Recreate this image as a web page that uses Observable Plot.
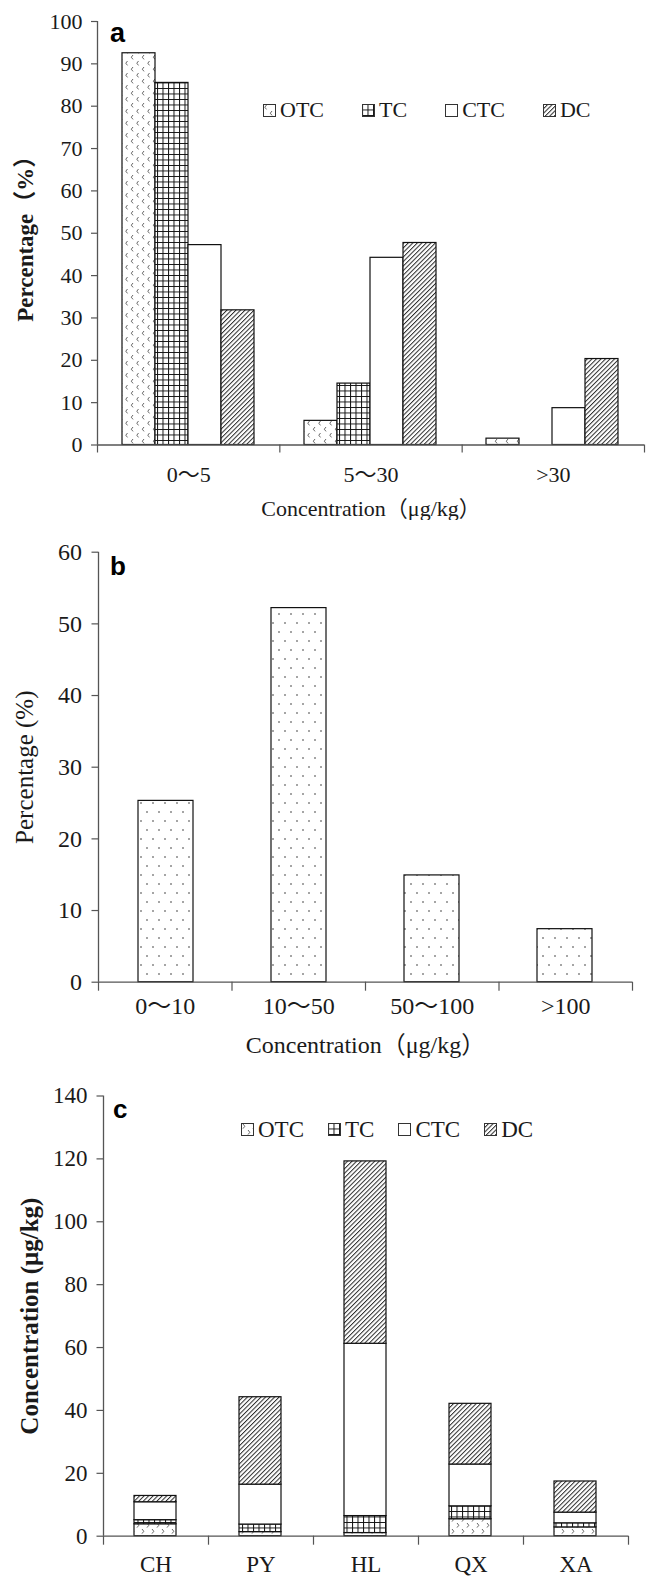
<!DOCTYPE html>
<html><head><meta charset="utf-8">
<script src="https://cdn.jsdelivr.net/npm/d3@7"></script>
<script src="https://cdn.jsdelivr.net/npm/@observablehq/plot@0.6"></script>
<style>
body{margin:0;background:#fff;}
#root{position:relative;width:646px;height:1577px;overflow:hidden;background:#fff;font-family:"Liberation Serif","Noto Sans CJK SC",serif;color:#1a1a1a}
.layer{position:absolute;left:0;}
.letter{position:absolute;font-family:"Liberation Sans",Arial,sans-serif;font-weight:bold;line-height:1;color:#000}
.legend{position:absolute;display:flex;align-items:center;white-space:nowrap;line-height:1;color:#1a1a1a;font-family:"Liberation Serif",serif}
.legend .item{display:flex;align-items:center}
.legend svg{display:block;margin-right:4px}
.pa g[aria-label="y-axis label"] text{font-weight:bold;font-size:23px}
.pa g[aria-label="x-axis label"] text{font-size:22px}
.pb g[aria-label="y-axis label"] text{font-size:25px}
.pb g[aria-label="x-axis label"] text{font-size:24px}
.pc g[aria-label="y-axis label"] text{font-weight:bold;font-size:25px}
</style></head>
<body>
<svg width="0" height="0" style="position:absolute">
<defs>
  <pattern id="pOtcA" patternUnits="userSpaceOnUse" width="11" height="12">
    <rect width="11" height="12" fill="#fff"/>
    <path d="M3.5,1 L1.8,3.2 L3.5,5.4 M9,7 L7.3,9.2 L9,11.4" fill="none" stroke="#555" stroke-width="0.9"/>
  </pattern>
  <pattern id="pOtcC" patternUnits="userSpaceOnUse" width="10" height="12">
    <rect width="10" height="12" fill="#fff"/>
    <path d="M2,1 L3.8,3.3 L2,5.6 M7,7 L8.8,9.3 L7,11.6" fill="none" stroke="#555" stroke-width="0.9"/>
  </pattern>
  <pattern id="pTc" patternUnits="userSpaceOnUse" width="5.5" height="5.5">
    <rect width="5.5" height="5.5" fill="#fff"/>
    <path d="M0,0.5 H5.5 M0.5,0 V5.5" stroke="#111" stroke-width="1"/>
  </pattern>
  <pattern id="pDc" patternUnits="userSpaceOnUse" width="3.2" height="3.2" patternTransform="rotate(45)">
    <rect width="3.2" height="3.2" fill="#fff"/>
    <line x1="0.5" y1="0" x2="0.5" y2="3.2" stroke="#2a2a2a" stroke-width="1"/>
  </pattern>
  <pattern id="pDots" patternUnits="userSpaceOnUse" width="12" height="18">
    <rect width="12" height="18" fill="#fff"/>
    <circle cx="3" cy="4" r="0.8" fill="#333"/>
    <circle cx="9" cy="13" r="0.8" fill="#333"/>
  </pattern>
</defs>
</svg>
<div id="root"></div>
<script>
// ---------- data ----------
const seriesNames = ["OTC", "TC", "CTC", "DC"];

// panel a: percentage of samples by concentration class
const catsA = ["0～5", "5～30", ">30"];
const otcA = [92.5, 5.7, 1.5];
const tcA  = [85.5, 14.5, 0];
const ctcA = [47.2, 44.2, 8.7];
const dcA  = [31.8, 47.7, 20.3];
const yTicksA = [0, 10, 20, 30, 40, 50, 60, 70, 80, 90, 100];

// panel b: percentage by total concentration class
const catsB = ["0～10", "10～50", "50～100", ">100"];
const pctB = [25.3, 52.2, 14.9, 7.4];
const yTicksB = [0, 10, 20, 30, 40, 50, 60];

// panel c: stacked concentrations by site
const sitesC = ["CH", "PY", "HL", "QX", "XA"];
const otcC = [3.8, 1.3, 1.0, 5.4, 2.8];
const tcC  = [1.3, 2.4, 5.4, 4.1, 1.3];
const ctcC = [5.7, 12.7, 54.8, 13.3, 3.4];
const dcC  = [2.0, 27.8, 58.0, 19.3, 9.9];
const yTicksC = [0, 20, 40, 60, 80, 100, 120, 140];

const xTitle = "Concentration（μg/kg）";

// ---------- helpers ----------
const AXIS = "#555";
const FONT = '"Liberation Serif","Noto Sans CJK SC",serif';
const root = document.getElementById("root");

function place(el, top, cls) {
  el.classList.add("layer");
  if (cls) el.classList.add(cls);
  el.style.top = top + "px";
  root.appendChild(el);
  return el;
}

function axes(o) {
  const n = o.cats.length;
  return Plot.plot({
    width: 646, height: o.height,
    marginLeft: o.ml, marginRight: o.mr, marginTop: o.mt, marginBottom: o.mb,
    style: {background: "transparent", fontFamily: FONT, fontSize: o.fs + "px", color: "#1a1a1a"},
    x: {domain: [0, n]},
    y: {domain: o.yDomain},
    marks: [
      Plot.ruleX([0], {stroke: AXIS, strokeWidth: 1.3}),
      Plot.ruleY([0], {stroke: AXIS, strokeWidth: 1.3}),
      Plot.axisY({ticks: o.yTicks, tickSize: o.tsy, tickPadding: o.tpy, stroke: AXIS, strokeWidth: 1.2,
        label: o.yLabel, labelAnchor: "center", labelOffset: o.loy, labelArrow: "none"}),
      Plot.axisX({ticks: d3.range(n + 1), tickSize: o.tsx, tickFormat: () => "", stroke: AXIS, strokeWidth: 1.2, label: null}),
      Plot.axisX({ticks: o.cats.map((d, i) => i + 0.5), tickSize: 0, tickPadding: o.tpx,
        tickFormat: (d) => o.cats[Math.floor(d)],
        label: o.xLabel, labelAnchor: "center", labelOffset: o.lox, labelArrow: "none"})
    ]
  });
}

function legend(left, top, fs, gap, fills) {
  const div = document.createElement("div");
  div.className = "legend";
  div.style.left = left + "px";
  div.style.top = top + "px";
  div.style.fontSize = fs + "px";
  div.style.gap = gap + "px";
  seriesNames.forEach((s, i) => {
    const it = document.createElement("div");
    it.className = "item";
    it.innerHTML = `<svg width="13" height="13"><rect x="0.5" y="0.5" width="12" height="12" fill="${fills[i]}" stroke="#333" stroke-width="1"/></svg><span>${s}</span>`;
    div.appendChild(it);
  });
  root.appendChild(div);
}

function letter(t, left, top, fs) {
  const d = document.createElement("div");
  d.className = "letter";
  d.textContent = t;
  d.style.left = left + "px";
  d.style.top = top + "px";
  d.style.fontSize = fs + "px";
  root.appendChild(d);
}

// ---------- panel a ----------
const fillsA = ["url(#pOtcA)", "url(#pTc)", "white", "url(#pDc)"];
const valsA = [otcA, tcA, ctcA, dcA];
const tableA = catsA.flatMap((c, i) => seriesNames.map((s, j) => ({cat: c, series: s, value: valsA[j][i]})));
const geomA = {height: 520, ml: 97, mr: 2, mt: 21, mb: 75.5};

place(Plot.plot({
  width: 646, height: geomA.height,
  marginLeft: geomA.ml, marginRight: geomA.mr, marginTop: geomA.mt, marginBottom: geomA.mb,
  fx: {domain: catsA, paddingInner: 0.274, paddingOuter: 0.137, axis: null, label: null},
  x: {domain: seriesNames, padding: 0, axis: null},
  y: {domain: [0, 100], axis: null},
  color: {domain: seriesNames, range: fillsA},
  marks: [Plot.barY(tableA, {fx: "cat", x: "series", y: "value", fill: "series", stroke: "#111", strokeWidth: 1.2})]
}), 0);

place(axes({...geomA, cats: catsA, yDomain: [0, 100], yTicks: yTicksA, fs: 22,
  tsy: 6, tpy: 9, tsx: 8, tpx: 21, yLabel: "Percentage（%）", xLabel: xTitle, loy: 81, lox: 71}), 0, "pa");

legend(263, 99, 22, 38, fillsA);
letter("a", 110, 20, 27);

// ---------- panel b ----------
const geomB = {height: 540, ml: 98, mr: 14, mt: 31.7, mb: 78.3};
place(Plot.plot({
  width: 646, height: geomB.height,
  marginLeft: geomB.ml, marginRight: geomB.mr, marginTop: geomB.mt, marginBottom: geomB.mb,
  x: {domain: catsB, paddingInner: 0.59, paddingOuter: 0.295, axis: null},
  y: {domain: [0, 60], axis: null},
  marks: [Plot.barY(catsB.map((c, i) => ({cat: c, value: pctB[i]})), {x: "cat", y: "value", fill: "url(#pDots)", stroke: "#111", strokeWidth: 1.2})]
}), 520);

place(axes({...geomB, cats: catsB, yDomain: [0, 60], yTicks: yTicksB, fs: 24,
  tsy: 6.5, tpy: 10, tsx: 9, tpx: 15, yLabel: "Percentage (%)", xLabel: xTitle, loy: 83, lox: 71}), 520, "pb");

letter("b", 110, 553, 26);

// ---------- panel c ----------
const fillsC = ["url(#pOtcC)", "url(#pTc)", "white", "url(#pDc)"];
const valsC = [otcC, tcC, ctcC, dcC];
const tableC = seriesNames.flatMap((s, j) => sitesC.map((c, i) => ({site: c, series: s, value: valsC[j][i]})));
const geomC = {height: 517, ml: 103, mr: 18, mt: 35.5, mb: 41.3};
place(Plot.plot({
  width: 646, height: geomC.height,
  marginLeft: geomC.ml, marginRight: geomC.mr, marginTop: geomC.mt, marginBottom: geomC.mb,
  x: {domain: sitesC, paddingInner: 0.6, paddingOuter: 0.3, axis: null},
  y: {domain: [0, 140], axis: null},
  color: {domain: seriesNames, range: fillsC},
  marks: [Plot.barY(tableC, Plot.stackY({x: "site", y: "value", fill: "series", stroke: "#111", strokeWidth: 1.2}))]
}), 1060);

place(axes({...geomC, cats: sitesC, yDomain: [0, 140], yTicks: yTicksC, fs: 23,
  tsy: 6.5, tpy: 9.5, tsx: 9, tpx: 19.5, yLabel: "Concentration (μg/kg)", xLabel: null, loy: 83, lox: 40}), 1060, "pc");

legend(241, 1118, 23, 24, fillsC);
letter("c", 113, 1096, 26);
</script>
</body></html>
